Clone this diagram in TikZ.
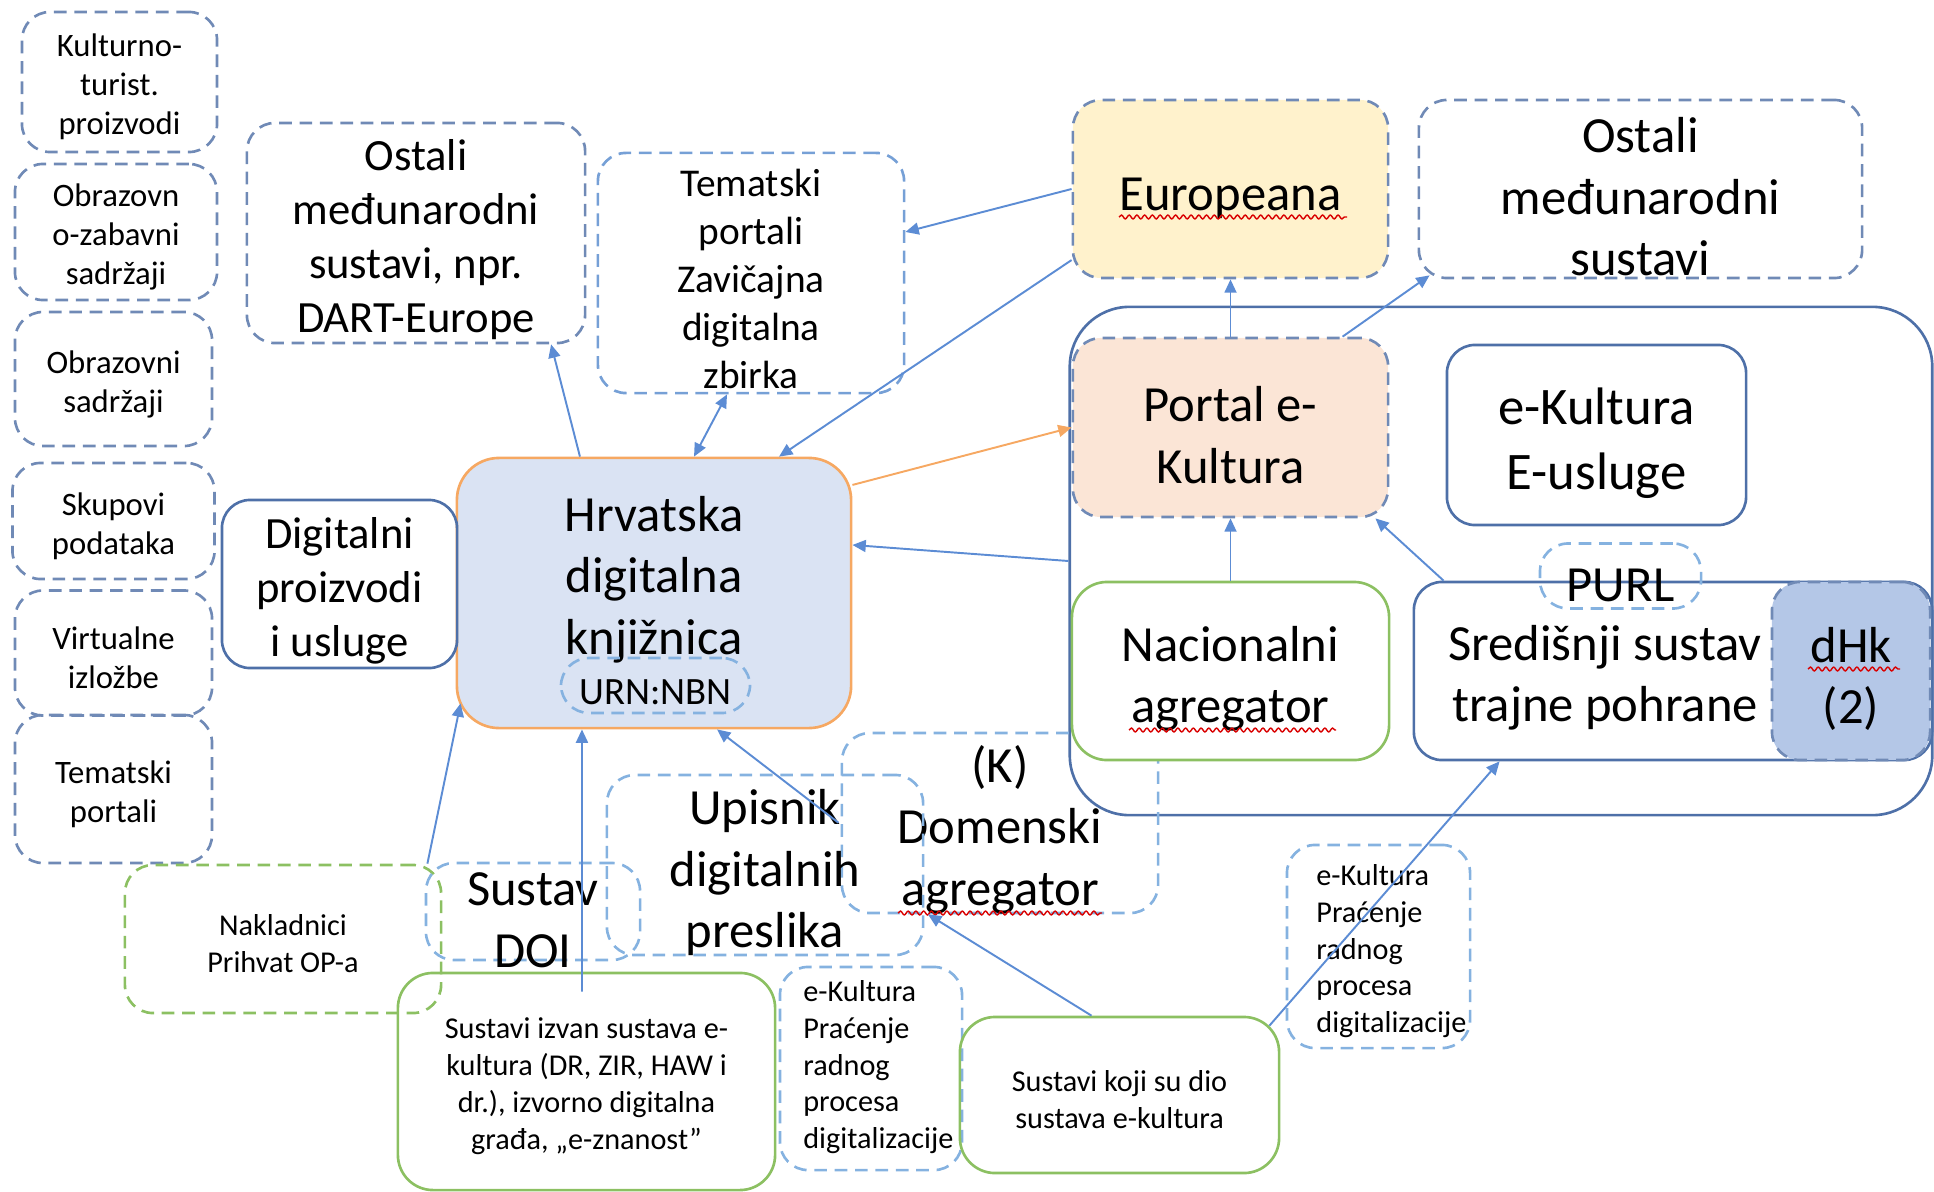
\documentclass[tikz,border=0pt]{standalone}
\usepackage{fontspec}
\setmainfont{Carlito}
\usetikzlibrary{arrows.meta,decorations.pathmorphing}

\definecolor{steelgray}{RGB}{112,138,182}
\definecolor{lightblue}{RGB}{133,178,224}
\definecolor{midblue}{RGB}{118,160,214}
\definecolor{darksteel}{RGB}{78,112,168}
\definecolor{arrowblue}{RGB}{92,140,212}
\definecolor{hdkorange}{RGB}{246,168,98}
\definecolor{okgreen}{RGB}{140,192,98}
\definecolor{eurfill}{RGB}{255,242,204}
\definecolor{portalfill}{RGB}{251,229,214}
\definecolor{hdkfill}{RGB}{218,227,243}
\definecolor{dhkfill}{RGB}{180,199,231}

% first-line strut, so text sits like in the original slide
\newcommand{\strutup}{\rule{0pt}{1em}}

\tikzset{
  box/.style={rectangle, rounded corners=8pt, line width=0.75pt, align=center, inner sep=-20pt},
  dashbox/.style={box, draw=steelgray, dash pattern=on 3.6pt off 2.2pt},
  litebox/.style={box, draw=lightblue, dash pattern=on 3.6pt off 2.2pt},
  solidbox/.style={box, draw=darksteel},
  greenbox/.style={box, draw=okgreen, rounded corners=10pt},
  fbig/.style={font=\fontsize{14.4}{17.5}\selectfont},
  fusl/.style={font=\fontsize{15}{18.3}\selectfont},
  fmid/.style={font=\fontsize{12.7}{15.4}\selectfont},
  ftem/.style={font=\fontsize{11.2}{13.6}\selectfont},
  fsmall/.style={font=\fontsize{9.3}{11.1}\selectfont},
  ftiny/.style={font=\fontsize{8.6}{10.5}\selectfont},
  furn/.style={font=\fontsize{11}{13}\selectfont},
  arr/.style={draw=arrowblue, line width=0.55pt, -{Triangle[length=3.8pt,width=3.4pt]}},
  spell/.style={draw=red!85!black, line width=0.4pt, decorate,
    decoration={snake, amplitude=0.55pt, segment length=2.2pt}}
}

\begin{document}
\begin{tikzpicture}[x=0.01cm, y=-0.01cm]
  \useasboundingbox (0,0) rectangle (1934,1191);

  % left column
  \node[dashbox, fsmall, minimum width=1.95cm, minimum height=1.40cm] (kult) at (119.5,82) {\strutup Kulturno-\\turist.\\proizvodi};
  \node[dashbox, fsmall, minimum width=2.02cm, minimum height=1.36cm] (obrzab) at (116,232) {\strutup Obrazovn\\o-zabavni\\sadržaji};
  \node[dashbox, fsmall, minimum width=1.97cm, minimum height=1.34cm] (obr) at (113.5,379) {\strutup Obrazovni\\sadržaji};
  \node[dashbox, fsmall, minimum width=2.02cm, minimum height=1.16cm] (skup) at (113.5,521) {\strutup Skupovi\\podataka};
  \node[dashbox, fsmall, minimum width=1.97cm, minimum height=1.25cm] (virt) at (113.5,653) {\strutup Virtualne\\izložbe};
  \node[dashbox, fsmall, minimum width=1.97cm, minimum height=1.48cm] (temlijevo) at (113.5,789) {\strutup Tematski\\portali};

  % top row
  \node[dashbox, fmid, minimum width=3.38cm, minimum height=2.20cm] (dart) at (416,233) {\strutup Ostali\\međunarodni\\sustavi, npr.\\DART-Europe};
  \node[box, draw=midblue, dash pattern=on 3.6pt off 2.2pt, ftem, minimum width=3.06cm, minimum height=2.40cm] (tem) at (751,273) {\strutup Tematski\\portali\\Zavičajna\\digitalna\\zbirka};
  \node[dashbox, fill=eurfill, fbig, minimum width=3.15cm, minimum height=1.78cm] (eur) at (1230.5,189) {\strutup Europeana};
  \node[dashbox, fbig, minimum width=4.43cm, minimum height=1.78cm] (ostR) at (1640.5,189) {\strutup Ostali\\međunarodni\\sustavi};

  % e-Kultura group
  \node[solidbox, rounded corners=17pt, minimum width=8.62cm, minimum height=5.08cm] (ekult) at (1501,561) {};
  \node[litebox, fbig, minimum width=3.16cm, minimum height=1.80cm] (dom) at (1000,823) {\strutup (K)\\Domenski\\agregator};
  \node[greenbox, fill=white, fbig, minimum width=3.17cm, minimum height=1.78cm] (nac) at (1230.5,671) {\strutup Nacionalni\\agregator};
  \node[dashbox, fill=portalfill, fbig, minimum width=3.15cm, minimum height=1.79cm] (portal) at (1230.5,427.5) {\strutup Portal e-\\Kultura};
  \node[solidbox, fusl, minimum width=2.99cm, minimum height=1.80cm] (eusl) at (1596.5,435) {\strutup e-Kultura\\E-usluge};
  \node[solidbox, minimum width=5.18cm, minimum height=1.78cm] (sred) at (1673,671) {};
  \node[fbig, align=center] (sredtxt) at (1605,670) {\strutup Središnji sustav\\trajne pohrane};
  \node[dashbox, fill=dhkfill, fbig, minimum width=1.58cm, minimum height=1.78cm] (dhk) at (1851,671) {\strutup dHk\\(2)};
  \node[litebox, fbig, minimum width=1.61cm, minimum height=0.65cm] (purl) at (1620.5,576) {\strutup PURL};

  % HDK
  \node[box, draw=hdkorange, fill=hdkfill, rounded corners=12pt, minimum width=3.94cm, minimum height=2.70cm] (hdk) at (654,593) {};
  \node[fbig, align=center] (hdktxt) at (654,572) {\strutup Hrvatska\\digitalna\\knjižnica};
  \node[litebox, furn, minimum width=1.89cm, minimum height=0.55cm] (urn) at (655.5,685.5) {\strutup URN:NBN};
  \node[solidbox, fmid, minimum width=2.35cm, minimum height=1.68cm] (digit) at (339.5,584) {\strutup Digitalni\\proizvodi\\i usluge};

  % bottom
  \node[box, draw=okgreen, dash pattern=on 3.6pt off 2.2pt, ftiny, minimum width=3.16cm, minimum height=1.48cm] (nak) at (283,939) {\strutup Nakladnici\\Prihvat OP-a};
  \node[litebox, fbig, minimum width=2.14cm, minimum height=0.97cm] (doi) at (533,911.5) {\strutup Sustav\\DOI};
  \node[litebox, fbig, minimum width=3.16cm, minimum height=1.80cm] (ups) at (765,865) {\strutup Upisnik\\digitalnih\\preslika};
  \node[greenbox, ftiny, minimum width=3.77cm, minimum height=2.17cm] (sizv) at (586.5,1081.5) {\strutup Sustavi izvan sustava e-\\kultura (DR, ZIR, HAW i\\dr.), izvorno digitalna\\građa, „e-znanost”};
  \node[litebox, minimum width=1.82cm, minimum height=2.03cm] (pracsr) at (871,1068.5) {};
  \node[ftiny, align=left, anchor=west, inner sep=0pt] (pracsrtxt) at ([xshift=0.24cm,yshift=0.06cm]pracsr.west) {\strutup e-Kultura\\Praćenje\\radnog\\procesa\\digitalizacije};
  \node[greenbox, ftiny, minimum width=3.19cm, minimum height=1.56cm] (skoji) at (1119.5,1095) {\strutup Sustavi koji su dio\\sustava e-kultura};
  \node[litebox, minimum width=1.83cm, minimum height=2.03cm] (pracd) at (1378.5,946.5) {};
  \node[ftiny, align=left, anchor=west, inner sep=0pt] (pracdtxt) at ([xshift=0.30cm]pracd.west) {\strutup e-Kultura\\Praćenje\\radnog\\procesa\\digitalizacije};

  % spell-check marks
  \draw[spell] (1119,217) -- (1347,217);
  \draw[spell] (1129,730) -- (1336,730);
  \draw[spell] (1808,669) -- (1900,669);
  \draw[spell] (898,913) -- (1102,913);

  % connectors
  \draw[arr] ([xshift=-0.74cm]hdk.north) -- ([xshift=1.35cm]dart.south);
  \draw[arr, {Triangle[length=3.8pt,width=3.4pt]}-{Triangle[length=3.8pt,width=3.4pt]}] ([xshift=-0.24cm]tem.south) -- ([xshift=0.40cm]hdk.north);
  \draw[arr] (eur.west) -- ([yshift=0.41cm]tem.east);
  \draw[arr] ([yshift=-0.71cm]eur.west) -- ([xshift=1.25cm]hdk.north);
  \draw[arr, draw=hdkorange, fill=hdkorange] ([yshift=1.08cm]hdk.east) -- (portal.west);
  \draw[arr] (ekult.west) -- ([yshift=0.48cm]hdk.east);
  \draw[arr] (portal.north) -- (eur.south);
  \draw[arr] ([xshift=1.12cm]portal.north) -- ([xshift=0.12cm,yshift=0.04cm]ostR.south west);
  \draw[arr] (nac.north) -- (portal.south);
  \draw[arr] ([xshift=0.31cm]sred.north west) -- ([xshift=-0.14cm]portal.south east);
  \draw[arr] ([xshift=-0.11cm,yshift=-0.10cm]skoji.north east) -- ([xshift=0.87cm]sred.south west);
  \draw[arr] ([xshift=-0.28cm]skoji.north) -- ([xshift=-0.72cm]dom.south);
  \draw[arr] ([xshift=-0.86cm,yshift=-0.49cm]ups.north east) -- ([xshift=0.63cm]hdk.south);
  \draw[arr] ([xshift=-0.045cm,yshift=-0.2cm]sizv.north) -- ([xshift=-0.72cm]hdk.south);
  \draw[arr] ([xshift=-0.15cm]nak.north east) -- ([xshift=0.05cm,yshift=0.26cm]hdk.south west);
\end{tikzpicture}
\end{document}
